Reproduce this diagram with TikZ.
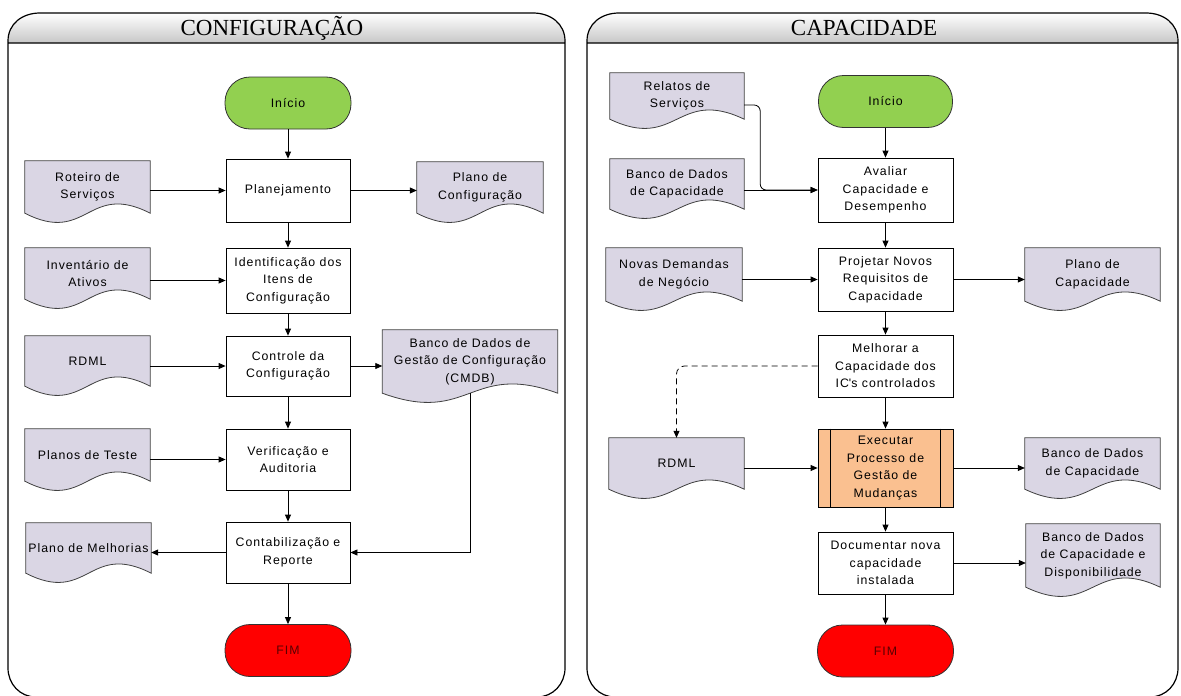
\documentclass[tikz,border=0pt]{standalone}
\usepackage{fontspec}
\setmainfont{Liberation Sans}[LetterSpace=8]
\newfontfamily\titlefont{Liberation Serif}
\usepackage{tikz}
\usetikzlibrary{arrows.meta}
\usetikzlibrary{calc}
\usetikzlibrary{backgrounds}

\definecolor{docfill}{RGB}{218,214,228}
\definecolor{startgreen}{RGB}{146,208,80}
\definecolor{subfill}{RGB}{250,192,144}
\definecolor{fimtext}{RGB}{90,0,0}

\tikzset{
  flow/.style={-{Triangle[length=7pt,width=6pt]}, line width=0.8pt},
  proc/.style={draw, fill=white, line width=0.8pt, align=center, minimum width=124pt, inner sep=1pt},
  term/.style={draw=black!80, line width=0.8pt, rounded corners=25pt, minimum width=126pt, minimum height=52pt},
  docu/.style={align=center, inner sep=1pt},
  docline/.style={draw=black!75, fill=docfill, line width=0.8pt},
  panel/.style={line width=1.2pt},
  title/.style={font=\titlefont\fontsize{23}{23}\selectfont},
  txt/.style={font=\fontsize{12.3}{17.5}\selectfont},
}

% document symbol: straight part is the node, wavy bottom below it
\newcommand{\docshape}[1]{%
  \begin{scope}[on background layer]
    \draw[docline] (#1.south west) -- (#1.north west) -- (#1.north east) -- (#1.south east)
      .. controls ($(#1.south)+(0,-32)$) and ($(#1.south)+(0,32)$) .. (#1.south west) -- cycle;
  \end{scope}}

\begin{document}
\begin{tikzpicture}[x=1pt,y=-1pt,txt]
  \useasboundingbox (0,0) rectangle (1181,696);

  % the two lanes
  \foreach \xl/\xr in {8/565,587/1178}{
    \shade[top color=white,bottom color=black!22]
      (\xl,43) -- (\xl,41) .. controls (\xl,24) and ({\xl+14},13) .. ({\xl+32},13)
      -- ({\xr-32},13) .. controls ({\xr-14},13) and (\xr,24) .. (\xr,41) -- (\xr,43) -- cycle;
    \draw[panel] (\xl,41) .. controls (\xl,24) and ({\xl+14},13) .. ({\xl+32},13)
      -- ({\xr-32},13) .. controls ({\xr-14},13) and (\xr,24) .. (\xr,41)
      -- (\xr,668) .. controls (\xr,684) and ({\xr-12},697) .. ({\xr-28},697)
      -- ({\xl+28},697) .. controls ({\xl+12},697) and (\xl,684) .. (\xl,668) -- cycle
      (\xl,43) -- (\xr,43);
  }
  \node[title] (titleA) at (272,28) {CONFIGURAÇÃO};
  \node[title] (titleB) at (864,28) {CAPACIDADE};

  % configuracao
  \node[term, fill=startgreen] (inicioA) at (288,103) {Início};
  \node[proc, minimum height=63pt] (planA) at (288,190.5) {Planejamento};
  \node[proc, minimum height=65pt] (identA) at (288,280.5) {Identificação dos\\Itens de\\Configuração};
  \node[proc, minimum height=60pt] (controleA) at (288,366) {Controle da\\Configuração};
  \node[proc, minimum height=61pt] (verifA) at (288,459.5) {Verificação e\\Auditoria};
  \node[proc, minimum height=61pt] (contabA) at (288,552.5) {Contabilização e\\Reporte};
  \node[term, fill=red, text=fimtext] (fimA) at (288,650.5) {FIM};

  \node[docu, minimum width=125pt, minimum height=52pt] (roteiro) at (87.5,187) {Roteiro de\\Serviços};
  \node[docu, minimum width=126pt, minimum height=51pt] (planoConf) at (480,187.5) {Plano de\\Configuração};
  \node[docu, minimum width=125pt, minimum height=51pt] (inventario) at (87.5,273.5) {Inventário de\\Ativos};
  \node[docu, minimum width=125pt, minimum height=50pt] (rdmlA) at (87.5,361) {RDML};
  \node[docu, minimum width=175pt, minimum height=63pt] (cmdb) at (470,361.5) {Banco de Dados de\\Gestão de Configuração\\(CMDB)};
  \node[docu, minimum width=125pt, minimum height=52pt] (testes) at (87.5,455) {Planos de Teste};
  \node[docu, minimum width=125pt, minimum height=50pt] (melhorias) at (88.5,548) {Plano de Melhorias};
  \foreach \d in {roteiro,planoConf,inventario,rdmlA,cmdb,testes,melhorias} {\docshape{\d}}

  \draw[flow] (inicioA) -- (planA);
  \draw[flow] (planA) -- (identA);
  \draw[flow] (identA) -- (controleA);
  \draw[flow] (controleA) -- (verifA);
  \draw[flow] (verifA) -- (contabA);
  \draw[flow] (contabA) -- (fimA);
  \draw[flow] (roteiro.east |- planA) -- (planA);
  \draw[flow] (planA) -- (planoConf.west |- planA);
  \draw[flow] (inventario.east |- identA) -- (identA);
  \draw[flow] (rdmlA.east |- controleA) -- (controleA);
  \draw[flow] (controleA) -- (cmdb.west |- controleA);
  \draw[flow] (testes.east |- verifA) -- (verifA);
  \draw[flow] (cmdb.south) |- (contabA);
  \draw[flow] (contabA) -- (melhorias.east |- contabA);

  % capacidade
  \node[term, fill=startgreen, minimum width=134pt] (inicioB) at (885.5,101.5) {Início};
  \node[proc, minimum width=135pt, minimum height=64pt] (avaliarB) at (885.5,190) {Avaliar\\Capacidade e\\Desempenho};
  \node[proc, minimum width=135pt, minimum height=63pt] (projetarB) at (885.5,279.5) {Projetar Novos\\Requisitos de\\Capacidade};
  \node[proc, minimum width=135pt, minimum height=62pt] (melhorarB) at (885.5,366) {Melhorar a\\Capacidade dos\\IC\textquotesingle s controlados};
  \node[proc, fill=subfill, minimum width=135pt, minimum height=78pt] (executarB) at (885.5,468) {Executar\\Processo de\\Gestão de\\Mudanças};
  \node[proc, minimum width=135pt, minimum height=62pt] (documentarB) at (885.5,563) {Documentar nova\\capacidade\\instalada};
  \node[term, fill=red, text=fimtext, minimum width=136pt] (fimB) at (885.5,651) {FIM};
  \draw[line width=0.8pt] ([xshift=13pt]executarB.north west) -- ([xshift=13pt]executarB.south west)
    ([xshift=-13pt]executarB.north east) -- ([xshift=-13pt]executarB.south east);

  \node[docu, minimum width=134pt, minimum height=46pt] (relatos) at (677,96) {Relatos de\\Serviços};
  \node[docu, minimum width=134pt, minimum height=50pt] (bancoCapA) at (677,184) {Banco de Dados\\de Capacidade};
  \node[docu, minimum width=136pt, minimum height=53pt] (novas) at (674,274.5) {Novas Demandas\\de Negócio};
  \node[docu, minimum width=135pt, minimum height=53pt] (planoCap) at (1092.5,274.5) {Plano de\\Capacidade};
  \node[docu, minimum width=135pt, minimum height=51pt] (rdmlB) at (676.5,463.5) {RDML};
  \node[docu, minimum width=135pt, minimum height=51pt] (bancoCapB) at (1092.5,463.5) {Banco de Dados\\de Capacidade};
  \node[docu, minimum width=134pt, minimum height=63pt] (bancoDisp) at (1093,555.5) {Banco de Dados\\de Capacidade e\\Disponibilidade};
  \foreach \d in {relatos,bancoCapA,novas,planoCap,rdmlB,bancoCapB,bancoDisp} {\docshape{\d}}

  \draw[flow] (inicioB) -- (avaliarB);
  \draw[flow] (avaliarB) -- (projetarB);
  \draw[flow] (projetarB) -- (melhorarB);
  \draw[flow] (melhorarB) -- (executarB);
  \draw[flow] (executarB) -- (documentarB);
  \draw[flow] (documentarB) -- (fimB);
  \draw[flow, rounded corners=6pt] ([yshift=-9pt]relatos.east) -- ++(16,0) |- (avaliarB);
  \draw[flow] (bancoCapA.east |- avaliarB) -- (avaliarB);
  \draw[flow] (novas.east |- projetarB) -- (projetarB);
  \draw[flow] (projetarB) -- (planoCap.west |- projetarB);
  \draw[flow, dash pattern=on 6pt off 4pt, rounded corners=8pt] (melhorarB) -| (rdmlB);
  \draw[flow] (rdmlB.east |- executarB) -- (executarB);
  \draw[flow] (executarB) -- (bancoCapB.west |- executarB);
  \draw[flow] (documentarB) -- (bancoDisp.west |- documentarB);
\end{tikzpicture}
\end{document}
